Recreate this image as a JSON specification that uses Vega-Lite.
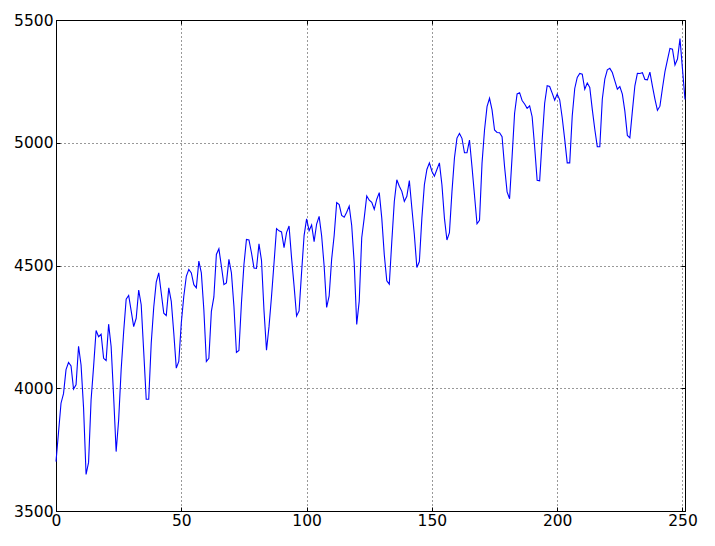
{
  "$schema": "https://vega.github.io/schema/vega-lite/v6.json",
  "width": 629,
  "height": 491,
  "autosize": {"type": "none"},
  "padding": {"left": 56, "top": 20, "right": 30, "bottom": 35},
  "background": "white",
  "config": {
    "view": {"stroke": "black", "strokeWidth": 1},
    "axis": {
      "labelFont": "DejaVu Sans",
      "labelFontSize": 15.5,
      "labelColor": "black",
      "domainColor": "black",
      "domainWidth": 1,
      "tickColor": "black",
      "tickWidth": 1,
      "tickSize": -4,
      "gridColor": "black",
      "gridDash": [1, 3],
      "gridWidth": 1,
      "gridOpacity": 0.8,
      "title": null
    }
  },
  "data": {"values": [
    {"x":0,"y":3701},{"x":1,"y":3820},{"x":2,"y":3939},{"x":3,"y":3978},{"x":4,"y":4076},{"x":5,"y":4105},{"x":6,"y":4091},{"x":7,"y":3997},{"x":8,"y":4014},{"x":9,"y":4171},
    {"x":10,"y":4095},{"x":11,"y":3920},{"x":12,"y":3649},{"x":13,"y":3698},{"x":14,"y":3952},{"x":15,"y":4088},{"x":16,"y":4235},{"x":17,"y":4210},{"x":18,"y":4220},{"x":19,"y":4122},
    {"x":20,"y":4113},{"x":21,"y":4261},{"x":22,"y":4170},{"x":23,"y":3966},{"x":24,"y":3742},{"x":25,"y":3871},{"x":26,"y":4075},{"x":27,"y":4230},{"x":28,"y":4363},{"x":29,"y":4378},
    {"x":30,"y":4315},{"x":31,"y":4251},{"x":32,"y":4285},{"x":33,"y":4400},{"x":34,"y":4340},{"x":35,"y":4150},{"x":36,"y":3955},{"x":37,"y":3955},{"x":38,"y":4183},{"x":39,"y":4330},
    {"x":40,"y":4432},{"x":41,"y":4470},{"x":42,"y":4388},{"x":43,"y":4306},{"x":44,"y":4296},{"x":45,"y":4409},{"x":46,"y":4354},{"x":47,"y":4225},{"x":48,"y":4082},{"x":49,"y":4109},
    {"x":50,"y":4266},{"x":51,"y":4375},{"x":52,"y":4456},{"x":53,"y":4484},{"x":54,"y":4470},{"x":55,"y":4422},{"x":56,"y":4409},{"x":57,"y":4518},{"x":58,"y":4470},{"x":59,"y":4320},
    {"x":60,"y":4109},{"x":61,"y":4122},{"x":62,"y":4313},{"x":63,"y":4372},{"x":64,"y":4545},{"x":65,"y":4568},{"x":66,"y":4497},{"x":67,"y":4422},{"x":68,"y":4429},{"x":69,"y":4525},
    {"x":70,"y":4470},{"x":71,"y":4334},{"x":72,"y":4146},{"x":73,"y":4154},{"x":74,"y":4347},{"x":75,"y":4504},{"x":76,"y":4606},{"x":77,"y":4604},{"x":78,"y":4552},{"x":79,"y":4490},
    {"x":80,"y":4488},{"x":81,"y":4588},{"x":82,"y":4521},{"x":83,"y":4317},{"x":84,"y":4155},{"x":85,"y":4251},{"x":86,"y":4374},{"x":87,"y":4510},{"x":88,"y":4650},{"x":89,"y":4641},
    {"x":90,"y":4637},{"x":91,"y":4573},{"x":92,"y":4634},{"x":93,"y":4661},{"x":94,"y":4531},{"x":95,"y":4417},{"x":96,"y":4294},{"x":97,"y":4315},{"x":98,"y":4472},{"x":99,"y":4622},
    {"x":100,"y":4690},{"x":101,"y":4642},{"x":102,"y":4665},{"x":103,"y":4597},{"x":104,"y":4669},{"x":105,"y":4700},{"x":106,"y":4621},{"x":107,"y":4498},{"x":108,"y":4329},{"x":109,"y":4376},
    {"x":110,"y":4526},{"x":111,"y":4622},{"x":112,"y":4756},{"x":113,"y":4748},{"x":114,"y":4704},{"x":115,"y":4697},{"x":116,"y":4717},{"x":117,"y":4742},{"x":118,"y":4663},{"x":119,"y":4510},
    {"x":120,"y":4260},{"x":121,"y":4355},{"x":122,"y":4613},{"x":123,"y":4694},{"x":124,"y":4783},{"x":125,"y":4766},{"x":126,"y":4757},{"x":127,"y":4729},{"x":128,"y":4770},{"x":129,"y":4797},
    {"x":130,"y":4693},{"x":131,"y":4544},{"x":132,"y":4438},{"x":133,"y":4424},{"x":134,"y":4598},{"x":135,"y":4761},{"x":136,"y":4849},{"x":137,"y":4823},{"x":138,"y":4802},{"x":139,"y":4761},
    {"x":140,"y":4782},{"x":141,"y":4846},{"x":142,"y":4734},{"x":143,"y":4625},{"x":144,"y":4492},{"x":145,"y":4516},{"x":146,"y":4693},{"x":147,"y":4829},{"x":148,"y":4891},{"x":149,"y":4918},
    {"x":150,"y":4884},{"x":151,"y":4864},{"x":152,"y":4891},{"x":153,"y":4918},{"x":154,"y":4829},{"x":155,"y":4693},{"x":156,"y":4604},{"x":157,"y":4634},{"x":158,"y":4800},{"x":159,"y":4938},
    {"x":160,"y":5019},{"x":161,"y":5038},{"x":162,"y":5018},{"x":163,"y":4959},{"x":164,"y":4959},{"x":165,"y":5011},{"x":166,"y":4902},{"x":167,"y":4786},{"x":168,"y":4670},{"x":169,"y":4684},
    {"x":170,"y":4916},{"x":171,"y":5052},{"x":172,"y":5147},{"x":173,"y":5181},{"x":174,"y":5134},{"x":175,"y":5052},{"x":176,"y":5042},{"x":177,"y":5041},{"x":178,"y":5025},{"x":179,"y":4902},
    {"x":180,"y":4800},{"x":181,"y":4772},{"x":182,"y":4943},{"x":183,"y":5120},{"x":184,"y":5199},{"x":185,"y":5204},{"x":186,"y":5172},{"x":187,"y":5158},{"x":188,"y":5140},{"x":189,"y":5150},
    {"x":190,"y":5106},{"x":191,"y":4984},{"x":192,"y":4847},{"x":193,"y":4845},{"x":194,"y":5011},{"x":195,"y":5161},{"x":196,"y":5232},{"x":197,"y":5229},{"x":198,"y":5202},{"x":199,"y":5173},
    {"x":200,"y":5198},{"x":201,"y":5175},{"x":202,"y":5102},{"x":203,"y":5014},{"x":204,"y":4918},{"x":205,"y":4918},{"x":206,"y":5109},{"x":207,"y":5221},{"x":208,"y":5266},{"x":209,"y":5282},
    {"x":210,"y":5279},{"x":211,"y":5218},{"x":212,"y":5243},{"x":213,"y":5225},{"x":214,"y":5136},{"x":215,"y":5055},{"x":216,"y":4984},{"x":217,"y":4984},{"x":218,"y":5177},{"x":219,"y":5259},
    {"x":220,"y":5297},{"x":221,"y":5303},{"x":222,"y":5286},{"x":223,"y":5252},{"x":224,"y":5218},{"x":225,"y":5229},{"x":226,"y":5198},{"x":227,"y":5129},{"x":228,"y":5030},{"x":229,"y":5020},
    {"x":230,"y":5129},{"x":231,"y":5232},{"x":232,"y":5283},{"x":233,"y":5282},{"x":234,"y":5285},{"x":235,"y":5258},{"x":236,"y":5256},{"x":237,"y":5288},{"x":238,"y":5231},{"x":239,"y":5178},
    {"x":240,"y":5132},{"x":241,"y":5149},{"x":242,"y":5222},{"x":243,"y":5290},{"x":244,"y":5338},{"x":245,"y":5384},{"x":246,"y":5381},{"x":247,"y":5317},{"x":248,"y":5341},{"x":249,"y":5424},
    {"x":250,"y":5300},{"x":251,"y":5176}
  ]},
  "layer": [
    {
      "mark": {"type": "line", "color": "#0000ff", "strokeWidth": 1.1},
      "encoding": {
        "x": {"field": "x", "type": "quantitative",
              "scale": {"domain": [0, 251], "nice": false, "zero": false},
              "axis": {"orient": "bottom", "values": [0, 50, 100, 150, 200, 250], "format": "d", "grid": true, "labelPadding": 6, "labelFlush": false}},
        "y": {"field": "y", "type": "quantitative",
              "scale": {"domain": [3500, 5500], "nice": false, "zero": false},
              "axis": {"orient": "left", "values": [3500, 4000, 4500, 5000, 5500], "format": "d", "grid": true, "labelPadding": 7, "labelFlush": false}}
      }
    },
    {
      "mark": {"type": "line", "opacity": 0},
      "encoding": {
        "x": {"field": "x", "type": "quantitative",
              "axis": {"orient": "top", "values": [0, 50, 100, 150, 200, 250], "labels": false, "grid": false, "domain": false}},
        "y": {"field": "y", "type": "quantitative",
              "axis": {"orient": "right", "values": [3500, 4000, 4500, 5000, 5500], "labels": false, "grid": false, "domain": false}}
      }
    }
  ],
  "resolve": {"axis": {"x": "independent", "y": "independent"}}
}
